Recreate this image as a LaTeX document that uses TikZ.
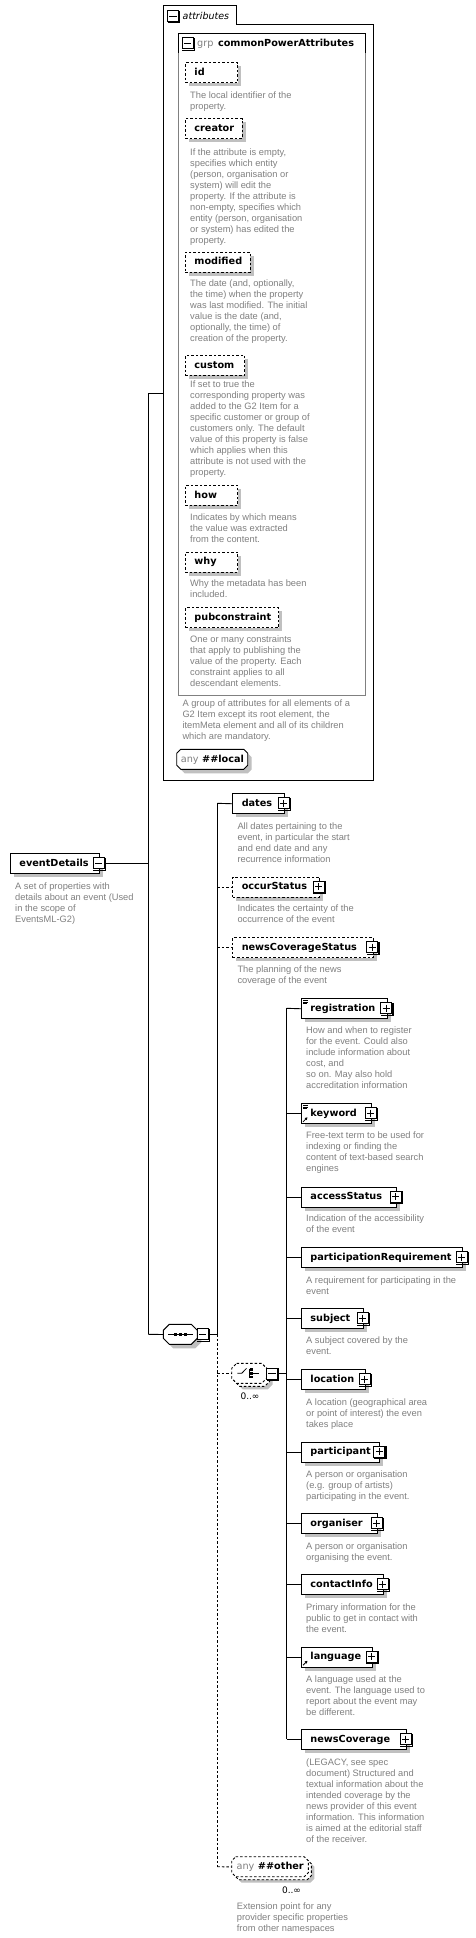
\documentclass[tikz,border=0pt]{standalone}
\usepackage{fontspec}
\setmainfont{Liberation Sans}
\newfontfamily\labf{DejaVu Sans}
\newfontfamily\descff{Liberation Sans}
\usetikzlibrary{arrows.meta}
\definecolor{desc}{RGB}{128,128,128}
\definecolor{shad}{RGB}{192,192,192}
\tikzset{
 conn/.style={line width=0.9pt},
 dconn/.style={conn, dash pattern=on 2.5pt off 2pt},
 elbox/.style={draw, line width=0.9pt, fill=white, minimum height=20pt, inner ysep=0pt, inner xsep=9pt,
   anchor=north west, align=left, text height=7.2pt, text depth=2pt,
   font=\labf\bfseries\fontsize{9.7}{11}\selectfont},
 optbox/.style={elbox, dash pattern=on 2.5pt off 2pt},
 descnode/.style={anchor=north west, inner sep=0pt, align=left, text=desc, font=\descff\fontsize{9.3}{11}\selectfont},
 pmbox/.style={draw, line width=0.9pt, fill=white, minimum size=11pt, inner sep=0pt},
 ghost/.style={anchor=north west, inner sep=0pt, draw=none},
 multtext/.style={font=\labf\fontsize{9}{10}\selectfont, inner sep=0pt},
}
\newcommand\elem[6]{\pgfmathsetmacro\tw{#4-18}\fill[shad] ({#2+4},{#3+4}) rectangle ({#2+#4+4},{#3+24});\node[#6, text width=\tw pt] (#1) at (#2,#3) {#5};}
\newcommand\desc[4]{\node[descnode] (#1) at (#2,{#3-3.5}) {#4};}
\newcommand\pmb[4]{%
 \node[pmbox] (#1) at (#2,#3) {};
 \draw[line width=1.1pt] ([xshift=0.8pt,yshift=-0.5pt]#1.north east) -- ([xshift=0.8pt,yshift=-0.8pt]#1.south east) -- ([xshift=0.5pt,yshift=-0.8pt]#1.south west);
 \draw[line width=0.8pt] ([xshift=2.3pt]#1.west) -- ([xshift=-2.3pt]#1.east);
 \ifx p#4 \draw[line width=0.8pt] ([yshift=-2.3pt]#1.north) -- ([yshift=2.3pt]#1.south);\fi}
\newcommand\octo[6][]{\draw[#1] ({#2+#6},#3) -- ({#4-#6},#3) -- (#4,{#3+#6}) -- (#4,{#5-#6}) -- ({#4-#6},#5) -- ({#2+#6},#5) -- (#2,{#5-#6}) -- (#2,{#3+#6}) -- cycle;}
\newcommand\docicon[2]{\draw[line width=0.7pt] ({#1+2},{#2+2}) -- ++(5,0) ({#1+2},{#2+3.7}) -- ++(5,0) ({#1+2},{#2+5.4}) -- ++(4,0);}
\newcommand\reficon[2]{\draw[line width=0.8pt,-{Triangle[length=2.6pt,width=2.8pt]}] ({#1+2},{#2+18.5}) -- ({#1+6.5},{#2+14});}
\begin{document}
\begin{tikzpicture}[x=1pt,y=-1pt]
\fill[white] (0,0) rectangle (476,1938);
\useasboundingbox (0,0) rectangle (476,1938);

% ---------- connectors ----------
\coordinate (mainTop) at (148.3,393.3);
\coordinate (mainBot) at (148.3,1334.3);
\coordinate (sTop) at (217.3,803.3);
\coordinate (sMid) at (217.3,1334.3);
\coordinate (sBot) at (217.3,1866.7);
\coordinate (cTop) at (286.7,1008.3);
\coordinate (cBot) at (286.7,1739.3);
\draw[conn] (mainTop) -- (mainBot);
\draw[conn] (sTop) -- (sMid);
\draw[dconn] (sMid) -- (sBot);
\draw[conn] (cTop) -- (cBot);

% ---------- attributes frame ----------
\node[ghost, minimum width=210pt, minimum height=756pt] (attrs) at (163.3,24) {};
\draw[conn, fill=white] (163.3,780) -- (163.3,5) -- (236.7,5) -- (236.7,24) -- (373.3,24) -- (373.3,780) -- cycle;
\draw[conn] (mainTop) -- (mainTop -| attrs.west);
\pmb{attrMinus}{173}{16}{m}
\node[anchor=west, inner sep=0pt, font=\labf\itshape\fontsize{9.5}{11}\selectfont] (attrsLabel) at (182.5,15.5) {attributes};

\node[ghost, minimum width=187.4pt, minimum height=661.7pt] (grp) at (178.3,33.3) {};
\draw[conn, draw=desc] (178.3,52.7) -- (178.3,695) -- (365.7,695) -- (365.7,52.7);
\draw[conn] (178.3,52.7) -- (178.3,33.3) -- (365.7,33.3) -- (365.7,52.7);
\pmb{grpMinus}{187.5}{43.3}{m}
\node[anchor=west, inner sep=0pt, font=\labf\fontsize{9.7}{11}\selectfont] (grpLabel) at (197,43.6) {{\color{desc}grp}\hspace{4.5pt}\textbf{commonPowerAttributes}};

\elem{id}{185}{62.3}{52.3}{id}{optbox}
\desc{idD}{190}{95}{The local identifier of the\\property.}
\elem{creator}{185}{118.3}{56.7}{creator}{optbox}
\desc{creatorD}{190}{151.7}{If the attribute is empty,\\specifies which entity\\(person, organisation or\\system) will edit the\\property. If the attribute is\\non-empty, specifies which\\entity (person, organisation\\or system) has edited the\\property.}
\elem{modified}{185}{251.7}{65}{modified}{optbox}
\desc{modifiedD}{190}{283.3}{The date (and, optionally,\\the time) when the property\\was last modified. The initial\\value is the date (and,\\optionally, the time) of\\creation of the property.}
\elem{custom}{185}{355}{59.3}{custom}{optbox}
\desc{customD}{190}{384}{If set to true the\\corresponding property was\\added to the G2 Item for a\\specific customer or group of\\customers only. The default\\value of this property is false\\which applies when this\\attribute is not used with the\\property.}
\elem{how}{185}{485}{52.3}{how}{optbox}
\desc{howD}{190}{516.7}{Indicates by which means\\the value was extracted\\from the content.}
\elem{why}{185}{551.7}{52.3}{why}{optbox}
\desc{whyD}{190}{583.3}{Why the metadata has been\\included.}
\elem{pubconstraint}{185}{607.3}{93.3}{pubconstraint}{optbox}
\desc{pubconstraintD}{190}{639.3}{One or many constraints\\that apply to publishing the\\value of the property. Each\\constraint applies to all\\descendant elements.}
\desc{grpD}{182.3}{703.3}{A group of attributes for all elements of a\\G2 Item except its root element, the\\itemMeta element and all of its children\\which are mandatory.}

\octo[fill=shad, draw=none]{180.7}{753.3}{251.7}{773.3}{4}
\octo[conn, fill=white]{176.7}{749.3}{247.7}{769.3}{4}
\node[ghost, minimum width=71pt, minimum height=20pt, font=\labf\bfseries\fontsize{9.7}{11}\selectfont] (anylocal) at (176.7,749.3) {{\color{desc}\mdseries any}\hspace{3.5pt}\#\#local};

% ---------- eventDetails ----------
\elem{eventDetails}{10}{853.3}{89}{eventDetails}{elbox}
\pmb{edMinus}{98.8}{863.3}{m}
\draw[conn] (edMinus.east) -- (edMinus.east -| mainTop);
\desc{eventDetailsD}{15}{886}{A set of properties with\\details about an event (Used\\in the scope of\\EventsML-G2)}

% ---------- sequence ----------
\octo[fill=shad, draw=none]{167.3}{1328.3}{201.3}{1348.3}{6}
\octo[conn, fill=white]{163.3}{1324.3}{197.3}{1344.3}{6}
\node[ghost, minimum width=34pt, minimum height=20pt] (seq) at (163.3,1324.3) {};
\draw[conn] (mainBot) -- (seq.west);
\draw[line width=0.8pt] (168.3,1334.3) -- (193.3,1334.3);
\foreach \xx in {175.5,180.3,185.1} \fill (\xx-1.4,1333) rectangle (\xx+1.4,1335.6);
\pmb{seqMinus}{202.8}{1334.3}{m}
\draw[conn] (seqMinus.east) -- (sMid);

% ---------- sequence children ----------
\elem{dates}{232.3}{793.3}{51.7}{dates}{elbox}
\pmb{datesPlus}{283.5}{803.3}{p}
\draw[conn] (sTop) -- (dates.west);
\desc{datesD}{237.3}{825.7}{All dates pertaining to the\\event, in particular the start\\and end date and any\\recurrence information}

\elem{occurStatus}{232.3}{876.7}{87}{occurStatus}{optbox}
\pmb{occurStatusPlus}{318.8}{886.7}{p}
\draw[dconn] (sTop |- occurStatus.west) -- (occurStatus.west);
\desc{occurStatusD}{237.3}{908.3}{Indicates the certainty of the\\occurrence of the event}

\elem{newsCoverageStatus}{232.3}{937.3}{140.4}{newsCoverageStatus}{optbox}
\pmb{ncsPlus}{372.2}{947.3}{p}
\draw[dconn] (sTop |- newsCoverageStatus.west) -- (newsCoverageStatus.west);
\desc{newsCoverageStatusD}{237.3}{969.3}{The planning of the news\\coverage of the event}

% ---------- choice ----------
\octo[fill=shad, draw=none]{237.7}{1369.3}{272.7}{1389.3}{5}
\octo[dconn, fill=white]{234.7}{1366.3}{269.7}{1386.3}{5}
\octo[dconn, fill=white]{231.7}{1363.3}{266.7}{1383.3}{5}
\node[ghost, minimum width=35pt, minimum height=20pt] (choice) at (231.7,1363.3) {};
\draw[dconn] (sTop |- choice.west) -- (choice.west);
\draw[line width=0.8pt] (237.3,1373.3) -- (241.7,1373.3) -- (246.5,1368.3);
\draw[line width=0.8pt] (249.3,1368.5) -- (249.3,1378.3);
\draw[line width=0.8pt] (249.3,1369.5) -- (250.5,1369.5) (249.3,1377.3) -- (250.5,1377.3) (253.3,1373.3) -- (259.3,1373.3);
\foreach \yy in {1369.5,1373.3,1377.1} \fill (250.3,\yy-1.3) rectangle (253.3,\yy+1.3);
\pmb{choiceMinus}{272}{1373.7}{m}
\draw[conn] (choiceMinus.east) -- (choiceMinus.east -| cTop);
\node[multtext] (choiceMult) at (250,1396.7) {0..∞};

% ---------- choice children ----------
\elem{registration}{301}{998.3}{85.7}{registration}{elbox}
\docicon{301}{998.3}
\pmb{registrationPlus}{386.2}{1008.3}{p}
\draw[conn] (cTop) -- (registration.west);
\desc{registrationD}{306}{1030.3}{How and when to register\\for the event. Could also\\include information about\\cost, and\\so on. May also hold\\accreditation information}

\elem{keyword}{301}{1103.3}{69.7}{keyword}{elbox}
\docicon{301}{1103.3}
\reficon{301}{1103.3}
\pmb{keywordPlus}{370.5}{1113.3}{p}
\draw[conn] (cTop |- keyword.west) -- (keyword.west);
\desc{keywordD}{306}{1135}{Free-text term to be used for\\indexing or finding the\\content of text-based search\\engines}

\elem{accessStatus}{301}{1186.7}{95}{accessStatus}{elbox}
\pmb{accessStatusPlus}{395.8}{1196.7}{p}
\draw[conn] (cTop |- accessStatus.west) -- (accessStatus.west);
\desc{accessStatusD}{306}{1218.3}{Indication of the accessibility\\of the event}

\elem{participationRequirement}{301}{1247.3}{160.7}{participationRequirement}{elbox}
\pmb{prPlus}{461.7}{1257.3}{p}
\draw[conn] (cTop |- participationRequirement.west) -- (participationRequirement.west);
\desc{participationRequirementD}{306}{1280}{A requirement for participating in the\\event}

\elem{subject}{301}{1308.3}{61.7}{subject}{elbox}
\pmb{subjectPlus}{362.5}{1318.3}{p}
\draw[conn] (cTop |- subject.west) -- (subject.west);
\desc{subjectD}{306}{1340}{A subject covered by the\\event.}

\elem{location}{301}{1369.3}{64}{location}{elbox}
\pmb{locationPlus}{364.5}{1379.3}{p}
\draw[conn] (cTop |- location.west) -- (location.west);
\desc{locationD}{306}{1401.7}{A location (geographical area\\or point of interest) the even\\takes place}

\elem{participant}{301}{1441.7}{78.3}{participant}{elbox}
\pmb{participantPlus}{379.2}{1451.7}{p}
\draw[conn] (cTop |- participant.west) -- (participant.west);
\desc{participantD}{306}{1473.7}{A person or organisation\\(e.g. group of artists)\\participating in the event.}

\elem{organiser}{301}{1513.3}{75.7}{organiser}{elbox}
\pmb{organiserPlus}{376.7}{1523.3}{p}
\draw[conn] (cTop |- organiser.west) -- (organiser.west);
\desc{organiserD}{306}{1545.7}{A person or organisation\\organising the event.}

\elem{contactInfo}{301}{1574.3}{81.7}{contactInfo}{elbox}
\pmb{contactInfoPlus}{382.5}{1584.3}{p}
\draw[conn] (cTop |- contactInfo.west) -- (contactInfo.west);
\desc{contactInfoD}{306}{1606.7}{Primary information for the\\public to get in contact with\\the event.}

\elem{language}{301}{1646.7}{70.7}{language}{elbox}
\reficon{301}{1646.7}
\pmb{languagePlus}{371.7}{1656.7}{p}
\draw[conn] (cTop |- language.west) -- (language.west);
\desc{languageD}{306}{1678.7}{A language used at the\\event. The language used to\\report about the event may\\be different.}

\elem{newsCoverage}{301}{1729.3}{104.7}{newsCoverage}{elbox}
\pmb{newsCoveragePlus}{405.8}{1739.3}{p}
\draw[conn] (cTop |- newsCoverage.west) -- (newsCoverage.west);
\desc{newsCoverageD}{306}{1761.7}{(LEGACY, see spec\\document) Structured and\\textual information about the\\intended coverage by the\\news provider of this event\\information. This information\\is aimed at the editorial staff\\of the receiver.}

% ---------- any ##other ----------
\octo[fill=shad, draw=none]{237.7}{1862.7}{314.3}{1882.7}{4}
\octo[dconn, fill=white]{234.7}{1859.7}{311.3}{1879.7}{4}
\octo[dconn, fill=white]{231.7}{1856.7}{308.3}{1876.7}{4}
\node[ghost, minimum width=76.6pt, minimum height=20pt, font=\labf\bfseries\fontsize{9.7}{11}\selectfont] (anyother) at (231.7,1856.7) {{\color{desc}\mdseries any}\hspace{3.5pt}\#\#other};
\draw[dconn] (sBot) -- (anyother.west);
\node[multtext] (anyotherMult) at (291.5,1890) {0..∞};
\desc{anyotherD}{236.7}{1906}{Extension point for any\\provider specific properties\\from other namespaces}
\end{tikzpicture}
\end{document}
